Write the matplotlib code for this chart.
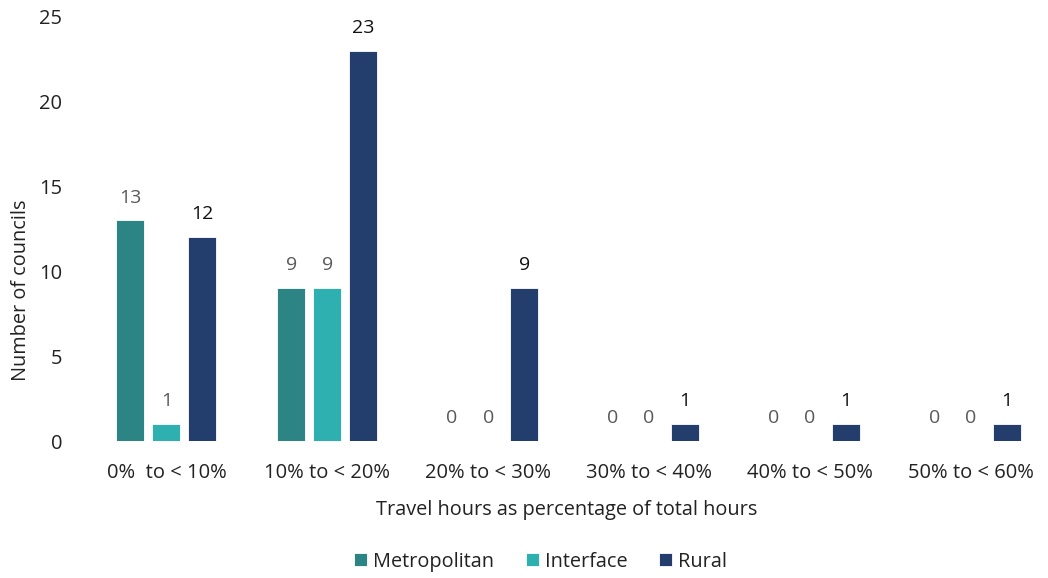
import matplotlib.pyplot as plt
import numpy as np

plt.rcParams['font.family'] = ['Open Sans', 'DejaVu Sans']

categories = ['0%  to < 10%', '10% to < 20%', '20% to < 30%',
              '30% to < 40%', '40% to < 50%', '50% to < 60%']
metropolitan = [13, 9, 0, 0, 0, 0]
interface = [1, 9, 0, 0, 0, 0]
rural = [12, 23, 9, 1, 1, 1]

series = [
    ('Metropolitan', metropolitan, '#2c8584', '#595959'),
    ('Interface', interface, '#2eb0b0', '#595959'),
    ('Rural', rural, '#233d6c', '#111111'),
]

fig = plt.figure(figsize=(10.48, 5.78), dpi=100)
ax = fig.add_axes([0.082, 0.237, 0.918, 0.734])

x = np.arange(len(categories))
width = 0.175
step = 0.224

for i, (name, values, color, label_color) in enumerate(series):
    pos = x + (i - 1) * step
    ax.bar(pos, values, width, color=color, edgecolor='white',
           linewidth=0.6, label=name)
    for xp, v in zip(pos, values):
        ax.annotate(str(v), (xp, v), xytext=(0, 10), textcoords='offset points',
                    ha='center', va='bottom', fontsize=14, color=label_color)

ax.set_xlim(-0.5, 5.48)
ax.set_ylim(0, 25)
ax.set_yticks(range(0, 26, 5))
ax.set_xticks(x)
ax.set_xticklabels(categories)
ax.tick_params(length=0, labelsize=14.5, colors='#222222')
ax.tick_params(axis='x', pad=16)
ax.tick_params(axis='y', pad=17)
for s in ax.spines.values():
    s.set_visible(False)

ax.set_xlabel('Travel hours as percentage of total hours', fontsize=14.3,
              color='#222222', labelpad=12)
ax.set_ylabel('Number of councils', fontsize=14.3, color='#222222')
ax.yaxis.set_label_coords(-0.057, 0.356)

fig.legend(loc='center', bbox_to_anchor=(0.516, 0.028), ncol=3,
           frameon=False, fontsize=14.3, handlelength=0.65, handleheight=0.65,
           handletextpad=0.3, columnspacing=1.6, labelcolor='#222222')

fig.savefig('out.png', dpi=100)
